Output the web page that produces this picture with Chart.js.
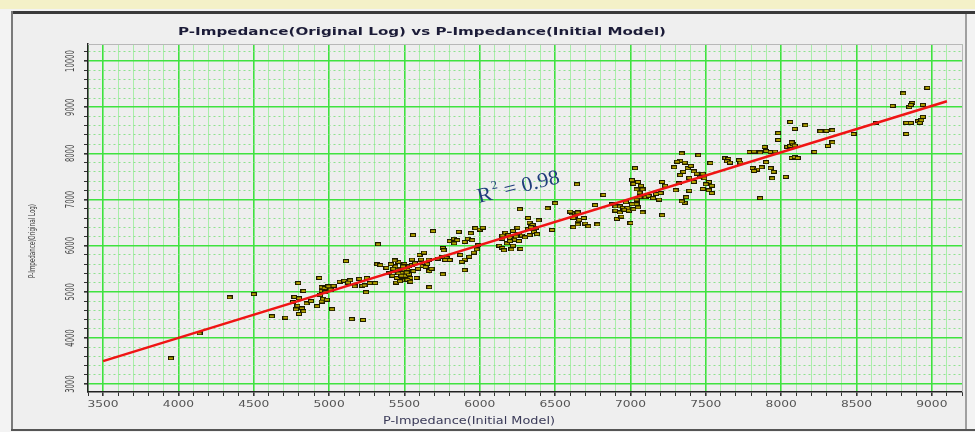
<!DOCTYPE html>
<html>
<head>
<meta charset="utf-8">
<script src="https://cdn.jsdelivr.net/npm/chart.js@4"></script>
<style>
html, body { margin: 0; padding: 0; background: #f3f3f3; }
canvas { display: block; }
</style>
</head>
<body>
<canvas id="grafica" width="975" height="432"></canvas>
<script>
// Impedancia P: modelo inicial (x) contra registro original (y)
const modeloInicial = [
  3950, 4140, 4340, 4500, 4620, 4710,
  4795, 4830, 4770, 4800, 4760, 4790, 4820, 4780, 4830, 4800, 4850, 4880,
  4920, 4935, 4950, 4970, 4950, 4975, 4940, 4960, 4950, 4985, 4995, 5020, 5010, 5030,
  5070, 5100, 5140, 5125, 5112, 5170, 5220, 5245, 5235, 5150, 5225, 5270, 5305, 5250, 5200,
  5325, 5320, 5340, 5380, 5400, 5420, 5430, 5440, 5450, 5460, 5470, 5480, 5490, 5500,
  5510, 5520, 5530, 5540, 5550, 5560, 5445, 5470, 5520, 5540, 5580, 5590, 5410, 5435,
  5460, 5490, 5500, 5530, 5550, 5570, 5455, 5480, 5515, 5425, 5557,
  5600, 5610, 5630, 5650, 5620, 5640, 5665, 5680, 5665, 5690, 5660,
  5755, 5720, 5750, 5780, 5800, 5770, 5755, 5760,
  5800, 5830, 5850, 5830, 5900, 5920, 5950, 5860, 5940, 5970, 6000, 6020,
  5870, 5900, 5880, 5930, 5960, 5980, 5990, 5900,
  6150, 6180, 6200, 6230, 6170, 6220, 6260, 6280, 6300, 6320, 6250,
  6130, 6150, 6180, 6160, 6200, 6220, 6240, 6260, 6150, 6190, 6270, 6210,
  6266, 6320, 6330, 6350, 6340, 6370, 6360, 6380, 6330, 6390, 6450, 6500, 6480,
  6645, 6610, 6630, 6650, 6620, 6660, 6650, 6690, 6620, 6650, 6700, 6720, 6780, 6765, 6820, 6600,
  6880, 6900, 6930, 6950, 6970, 6980, 7010, 7040, 6900, 6930, 6960, 6990, 7020, 7050,
  6910, 6940, 7000, 7080,
  7030, 7010, 7020, 7050, 7070, 7040, 7060, 7080, 7060, 7040,
  7100, 7120, 7150, 7170, 7200, 7190, 7210, 7230, 7210,
  7300, 7320, 7330, 7350, 7380, 7400, 7360, 7330, 7310, 7290, 7390, 7420, 7390, 7370,
  7360, 7340, 7340,
  7420, 7440, 7480, 7460, 7490, 7520, 7500, 7540, 7520, 7480, 7450, 7530, 7540,
  7630, 7650, 7640, 7660, 7720, 7730,
  7790, 7820, 7860, 7900, 7930, 7960, 7980, 7890,
  7810, 7840, 7870, 7820, 7900, 7950, 7940, 7860, 7930,
  8030, 7980, 8060, 8040, 8060, 8080, 8070, 8090, 8070, 8090, 8110, 8090, 8160,
  8220, 8260, 8300, 8340, 8310, 8340,
  8480, 8630, 8740, 8810, 8830, 8830, 8860, 8910, 8920, 8940, 8930, 8850, 8870, 8860, 8940, 8970
];
const registroOriginal = [
  3560, 4100, 4880, 4950, 4470, 4440,
  5190, 5020, 4890, 4860, 4780, 4700, 4640, 4620, 4580, 4520, 4750, 4800,
  4690, 5300, 5100, 5080, 5020, 4990, 4930, 4850, 4790, 4830, 5120, 4625, 5050, 5130,
  5220, 5240, 5250, 5200, 5666, 5120, 5130, 4990, 5140, 4410, 4390, 5190, 5190, 5300, 5280,
  6030, 5600, 5580, 5520, 5400, 5350, 5450, 5550, 5300, 5650, 5500, 5420, 5250, 5600,
  5350, 5480, 5550, 5300, 5700, 5450, 5200, 5230, 5260, 5220, 5300, 5500, 5600, 5680,
  5400, 5550, 5480, 5380, 5580, 5620, 5480, 5350, 5420, 5500, 6230,
  5800, 5700, 5850, 5600, 5560, 5540, 5450, 5500, 5100, 6316, 5700,
  5380, 5720, 5760, 5730, 5690, 5690, 5950, 5900,
  6100, 6150, 6120, 6050, 6080, 6150, 6120, 6300, 6270, 6380, 6350, 6390,
  5800, 5700, 5650, 5760, 5850, 5920, 6010, 5470,
  6150, 6200, 6170, 6130, 6280, 6320, 6260, 6220, 6180, 6360, 6390,
  6000, 5950, 6050, 5900, 6100, 6000, 6200, 6100, 6220, 6230, 5930, 5920,
  6790, 6600, 6500, 6450, 6400, 6380, 6300, 6250, 6230, 6550, 6810, 6920, 6340,
  7330, 6700, 6650, 6720, 6600, 6560, 6500, 6600, 6400, 6460, 6480, 6420, 6460, 6880, 7100, 6740,
  6900, 6850, 6850, 6820, 6940, 6820, 6900, 6900, 6760, 6720, 6780, 6760, 6790, 6830,
  6580, 6630, 6490, 6720,
  7680, 7420, 7340, 7380, 7300, 7220, 7150, 7220, 7050, 7000,
  7050, 7080, 7030, 7120, 7140, 7000, 7380, 7300, 6660,
  7200, 7350, 7530, 7600, 7680, 7730, 7800, 7840, 7820, 7700, 7470, 7380, 7190, 7050,
  6930, 6960, 8000,
  7610, 7560, 7560, 7480, 7460, 7380, 7330, 7300, 7200, 7230, 7960, 7790, 7140,
  7900, 7880, 7830, 7800, 7850, 7800,
  8030, 8040, 8020, 8050, 8030, 8040, 8440, 8140,
  7680, 7650, 7700, 7620, 7810, 7600, 7460, 7030, 7680,
  7490, 8290, 8680, 8140, 8160, 8200, 8240, 8170, 7900, 7920, 7900, 8530, 8610,
  8030, 8480, 8490, 8500, 8160, 8240,
  8420, 8660, 9030, 9300, 8420, 8660, 8660, 8700, 8660, 8790, 8720, 9000, 9090, 9050, 9050, 9420
];

// recta de ajuste (R² = 0.98)
const ajusteX = [3500, 9100];
const ajusteY = [3500, 9130];
const textoR2 = "0.98";

const ticksX = [3500, 4000, 4500, 5000, 5500, 6000, 6500, 7000, 7500, 8000, 8500, 9000];
const ticksY = [3000, 4000, 5000, 6000, 7000, 8000, 9000, 10000];

const titulo = "P-Impedance(Original Log) vs P-Impedance(Initial Model)";
const tituloX = "P-Impedance(Initial Model)";
const tituloY = "P-Impedance(Original Log)";

// marcador rectangular amarillo oliva con borde negro
const marca = document.createElement("canvas");
marca.width = 6;
marca.height = 4;
const mctx = marca.getContext("2d");
mctx.fillStyle = "#1d1a00";
mctx.fillRect(0, 0, 6, 4);
mctx.fillStyle = "#b3a300";
mctx.fillRect(1, 1, 4, 2);

const verdeFuerte = "#3fe23f";
const verdeSuave = "#a9eea9";

function texto(ctx, str, x, y, o) {
  ctx.save();
  ctx.translate(x, y);
  if (o.angle) ctx.rotate(o.angle);
  ctx.font = o.font;
  let sx = o.sx || 1;
  if (o.width) sx = o.width / ctx.measureText(str).width;
  ctx.scale(sx, o.sy || 1);
  ctx.fillStyle = o.color;
  ctx.textAlign = o.align || "center";
  ctx.textBaseline = o.baseline || "middle";
  ctx.fillText(str, 0, 0);
  ctx.restore();
}

const marco = {
  id: "marco",
  beforeDraw(chart) {
    const ctx = chart.ctx;
    const a = chart.chartArea;
    ctx.save();
    ctx.fillStyle = "#f3f3f3";
    ctx.fillRect(0, 0, 975, 432);
    ctx.fillStyle = "#f4f1c8";
    ctx.fillRect(0, 0, 975, 9);
    ctx.fillStyle = "#efefef";
    ctx.fillRect(12, 12, 954, 418);
    ctx.fillStyle = "#3a3a3a";
    ctx.fillRect(11, 11, 964, 3);
    ctx.fillStyle = "#7a7a7a";
    ctx.fillRect(11, 11, 2, 420);
    ctx.fillStyle = "#555";
    ctx.fillRect(11, 429, 964, 2);
    ctx.fillStyle = "#a0a0a0";
    ctx.fillRect(965, 14, 2, 415);
    ctx.fillStyle = "#eeeeee";
    ctx.fillRect(a.left, a.top, a.right - a.left, a.bottom - a.top);
    ctx.restore();
  },
  beforeDatasetsDraw(chart) {
    const ctx = chart.ctx;
    const a = chart.chartArea;
    ctx.save();
    ctx.strokeStyle = "#b8b8b8";
    ctx.lineWidth = 1;
    ctx.beginPath();
    ctx.moveTo(a.left, a.top + 0.5);
    ctx.lineTo(a.right + 0.5, a.top + 0.5);
    ctx.lineTo(a.right + 0.5, a.bottom);
    ctx.stroke();
    ctx.restore();
  },
  afterDraw(chart) {
    const ctx = chart.ctx;
    const a = chart.chartArea;
    const sx = chart.scales.x;
    const sy = chart.scales.y;

    texto(ctx, titulo, 178, 32, { font: "bold 11px 'DejaVu Sans'", width: 488, color: "#1c1c38", align: "left" });
    texto(ctx, tituloX, 469, 421, { font: "10px 'DejaVu Sans'", width: 172, color: "#3a3a58" });
    texto(ctx, tituloY, 33, 241, { font: "8px 'DejaVu Sans'", width: 74, sy: 1.15, angle: -Math.PI / 2, color: "#333" });

    ticksX.forEach(v => {
      texto(ctx, String(v), sx.getPixelForValue(v), a.bottom + 13,
        { font: "9px 'DejaVu Sans'", sx: 1.36, color: "#555" });
    });
    ticksY.forEach(v => {
      texto(ctx, String(v), a.left - 17, sy.getPixelForValue(v),
        { font: "8px 'DejaVu Sans'", sx: 0.85, sy: 1.5, angle: -Math.PI / 2, color: "#4a4a4a" });
    });

    // etiqueta R² a lo largo de la recta
    const px = sx.getPixelForValue(5995);
    const py = sy.getPixelForValue(6923);
    ctx.save();
    ctx.translate(px, py);
    ctx.rotate(-14 * Math.PI / 180);
    ctx.scale(1.05, 1);
    ctx.fillStyle = "#1f3c7a";
    ctx.textAlign = "left";
    ctx.textBaseline = "alphabetic";
    ctx.font = "21px 'Liberation Serif'";
    ctx.fillText("R", 0, 0);
    let w = ctx.measureText("R").width;
    ctx.font = "12px 'Liberation Serif'";
    ctx.fillText("2", w + 1, -10);
    w += ctx.measureText("2").width + 1;
    ctx.font = "21px 'Liberation Serif'";
    ctx.fillText(" = " + textoR2, w, 0);
    ctx.restore();
  }
};

const puntos = modeloInicial.map((x, i) => ({ x: x, y: registroOriginal[i] }));
const recta = ajusteX.map((x, i) => ({ x: x, y: ajusteY[i] }));

new Chart(document.getElementById("grafica"), {
  type: "scatter",
  data: {
    datasets: [
      {
        type: "line",
        data: recta,
        borderColor: "#f01414",
        borderWidth: 2.5,
        pointRadius: 0,
        fill: false
      },
      {
        data: puntos,
        pointStyle: marca,
        pointRadius: 3,
        pointHoverRadius: 3
      }
    ]
  },
  options: {
    responsive: false,
    devicePixelRatio: 1,
    animation: false,
    events: [],
    layout: { padding: { left: 84, right: 13, top: 44, bottom: 36 } },
    plugins: { legend: { display: false }, tooltip: { enabled: false }, title: { display: false } },
    scales: {
      x: {
        type: "linear",
        min: 3400,
        max: 9200,
        ticks: { stepSize: 100, display: false },
        afterFit: s => { s.height = 4; },
        grid: {
          color: c => (c.tick && c.tick.value % 500 === 0) ? verdeFuerte : verdeSuave,
          lineWidth: c => (c.tick && c.tick.value % 500 === 0) ? 1.6 : 1,
          tickColor: "#333",
          tickLength: 4
        },
        border: { color: "#222", width: 1.5 }
      },
      y: {
        type: "linear",
        min: 2830,
        max: 10370,
        ticks: { stepSize: 200, display: false, includeBounds: false },
        afterFit: s => { s.width = 4; },
        grid: {
          color: c => (c.tick && c.tick.value % 1000 === 0) ? verdeFuerte : "#8fe28f",
          lineWidth: c => (c.tick && c.tick.value % 1000 === 0) ? 1.6 : 1,
          tickColor: "#333",
          tickLength: 4
        },
        border: {
          color: "#222",
          width: 1.5,
          dash: c => (c.tick && c.tick.value % 1000 !== 0) ? [2, 3] : []
        }
      }
    }
  },
  plugins: [marco]
});
</script>
</body>
</html>
